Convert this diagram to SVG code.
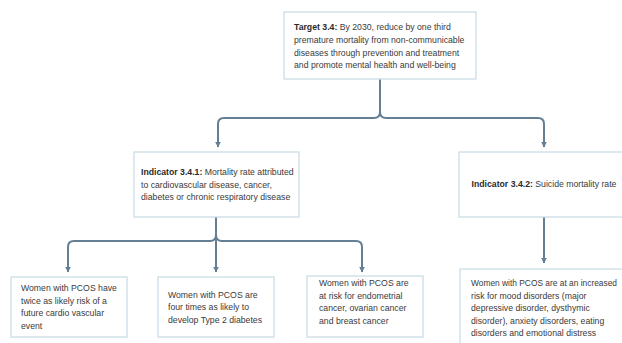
<svg xmlns="http://www.w3.org/2000/svg" width="622" height="343" viewBox="0 0 622 343">
<style>
.box{fill:#ffffff;stroke:#cddde6;stroke-width:1.3}
.t{font-family:"Liberation Sans",Arial,sans-serif;font-size:8.7px;fill:#3a3a3a}
.b{font-weight:bold;fill:#2a2a2a}
.c{fill:none;stroke:#647f93;stroke-width:2}
</style>
<defs>
<marker id="ah" viewBox="0 0 10 10" refX="9" refY="5" markerWidth="3" markerHeight="3" orient="auto" markerUnits="strokeWidth">
<path d="M0,0 L10,5 L0,10 z" fill="#647f93"/>
</marker>
</defs>
<rect width="622" height="343" fill="#ffffff"/>
<g id="connectors">
<path class="c" d="M380,79 V112 Q380,118 374,118 H224 Q218,118 218,124 V147" marker-end="url(#ah)"/>
<path class="c" d="M380,112 Q380,118 386,118 H538 Q544,118 544,124 V147" marker-end="url(#ah)"/>
<path class="c" d="M216,217 V235 Q216,241 210,241 H74 Q68,241 68,247 V272" marker-end="url(#ah)"/>
<path class="c" d="M216,235 V272" marker-end="url(#ah)"/>
<path class="c" d="M216,235 Q216,241 222,241 H356 Q362,241 362,247 V272" marker-end="url(#ah)"/>
<path class="c" d="M544,217 V263" marker-end="url(#ah)"/>
</g>
<g id="target">
<rect class="box" x="284" y="12" width="192" height="67"/>
<text class="t" x="294" y="30"><tspan class="b">Target 3.4:</tspan> By 2030, reduce by one third</text>
<text class="t" x="294" y="43">premature mortality from non-communicable</text>
<text class="t" x="294" y="55.5">diseases through prevention and treatment</text>
<text class="t" x="294" y="68">and promote mental health and well-being</text>
</g>
<g id="indicator-341">
<rect class="box" x="134" y="152" width="165" height="65"/>
<text class="t" x="141" y="175"><tspan class="b">Indicator 3.4.1:</tspan> Mortality rate attributed</text>
<text class="t" x="141" y="187.5">to cardiovascular disease, cancer,</text>
<text class="t" x="141" y="200">diabetes or chronic respiratory disease</text>
</g>
<g id="indicator-342">
<rect class="box" x="459" y="152" width="170" height="65"/>
<text class="t" x="544" y="187" text-anchor="middle"><tspan class="b">Indicator 3.4.2:</tspan> Suicide mortality rate</text>
</g>
<g id="cardio">
<rect class="box" x="11" y="277" width="116" height="60"/>
<text class="t" x="21" y="291">Women with PCOS have</text>
<text class="t" x="21" y="303.5">twice as likely risk of a</text>
<text class="t" x="21" y="316">future cardio vascular</text>
<text class="t" x="21" y="328.5">event</text>
</g>
<g id="diabetes">
<rect class="box" x="158" y="277" width="116" height="60"/>
<text class="t" x="168" y="297.5">Women with PCOS are</text>
<text class="t" x="168" y="310">four times as likely to</text>
<text class="t" x="168" y="322.5">develop Type 2 diabetes</text>
</g>
<g id="cancer">
<rect class="box" x="307" y="276" width="116" height="61"/>
<text class="t" x="319" y="286">Women with PCOS are</text>
<text class="t" x="319" y="298.5">at risk for endometrial</text>
<text class="t" x="319" y="311">cancer, ovarian cancer</text>
<text class="t" x="319" y="323.5">and breast cancer</text>
</g>
<g id="mood">
<rect class="box" x="460" y="269" width="170" height="90"/>
<text class="t" x="471" y="286" textLength="146" lengthAdjust="spacingAndGlyphs">Women with PCOS are at an increased</text>
<text class="t" x="471" y="298.5">risk for mood disorders (major</text>
<text class="t" x="471" y="311">depressive disorder, dysthymic</text>
<text class="t" x="471" y="323.5">disorder), anxiety disorders, eating</text>
<text class="t" x="471" y="336">disorders and emotional distress</text>
</g>
</svg>
